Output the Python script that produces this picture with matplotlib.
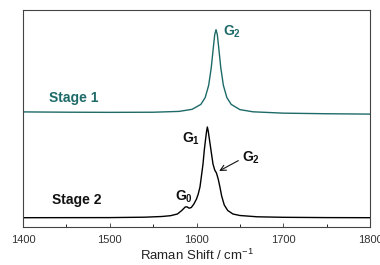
import matplotlib
matplotlib.use("Agg")
import matplotlib.pyplot as plt

plt.rcParams['font.family'] = ['Liberation Sans', 'DejaVu Sans']
plt.rcParams['mathtext.fontset'] = 'custom'
plt.rcParams['mathtext.rm'] = 'Liberation Sans'
plt.rcParams['mathtext.bf'] = 'Liberation Sans:bold'

# Stage 1 spectrum (offset, arbitrary units)
stage1_x = [1400, 1450, 1500, 1550, 1580, 1595, 1605, 1610, 1614, 1617, 1619, 1621,
            1622.5, 1624, 1626, 1628, 1631, 1635, 1640, 1650, 1665, 1700, 1750, 1800]
stage1_y = [115.1, 114.8, 114.65, 114.77, 115.6, 117.7, 122.6, 129.4, 141.6, 159.2, 176.1, 192.4,
            197.3, 192.4, 176.1, 159.2, 141.6, 129.4, 122.6, 117.4, 115.2, 113.85, 113.25, 112.9]

# Stage 2 spectrum (arbitrary units)
stage2_x = [1400, 1500, 1540, 1560, 1570, 1578, 1583, 1587, 1589, 1591.5, 1594, 1597,
            1600, 1602, 1604, 1606, 1607.5, 1609, 1610.5, 1611.5, 1612.5, 1613.5, 1615,
            1617, 1619, 1621, 1623, 1625, 1627, 1629, 1632, 1636, 1642, 1650, 1670,
            1700, 1750, 1800]
stage2_y = [9.3, 9.4, 9.8, 10.5, 11.3, 13.0, 16.5, 20.0, 20.2, 18.8, 19.5, 23,
            28, 33, 40, 53, 63, 77, 88, 95, 100, 96, 87,
            75, 63, 57, 54, 48, 40, 31, 22, 16.5, 13, 11.5, 10.2,
            9.7, 9.4, 9.3]

x_ticks = [1400, 1500, 1600, 1700, 1800]
teal = '#1d6a68'

fig = plt.figure(figsize=(3.8, 2.65), dpi=100)
ax = fig.add_axes([23/380, 1-227/265, (370-23)/380, (227-10)/265])

ax.plot(stage1_x, stage1_y, color=teal, lw=1.0)
ax.plot(stage2_x, stage2_y, color='black', lw=1.0)

ax.set_xlim(1400, 1800)
ax.set_ylim(0, 217)
ax.set_xticks(x_ticks)
ax.set_xticks([1450, 1550, 1650, 1750], minor=True)
ax.set_yticks([])
ax.tick_params(axis='x', direction='in', length=3, width=0.6, labelsize=8, pad=6, colors='#333333')
ax.tick_params(axis='x', which='minor', direction='in', length=2, width=0.6)
for s in ax.spines.values():
    s.set_color('#444444')
    s.set_linewidth(0.8)
ax.set_xlabel('Raman Shift / cm$^{-1}$', fontsize=9.5, labelpad=2, color='#222222')

lab = dict(fontsize=10, fontweight='bold', va='center')
ax.text(1430, 129, 'Stage 1', color=teal, **lab)
ax.text(1630, 195, 'G$_\\mathbf{2}$', color=teal, **lab)
ax.text(1433, 27, 'Stage 2', color='#111111', **lab)
ax.text(1575, 30, 'G$_\\mathbf{0}$', color='#111111', **lab)
ax.text(1583, 88, 'G$_\\mathbf{1}$', color='#111111', **lab)
ax.text(1653, 69, 'G$_\\mathbf{2}$', color='#111111', **lab)
ax.annotate('', xy=(1623.3, 54.7), xytext=(1651, 67.7),
            arrowprops=dict(arrowstyle='->', color='#111111', lw=0.8))

fig.savefig('out.png', dpi=100)
